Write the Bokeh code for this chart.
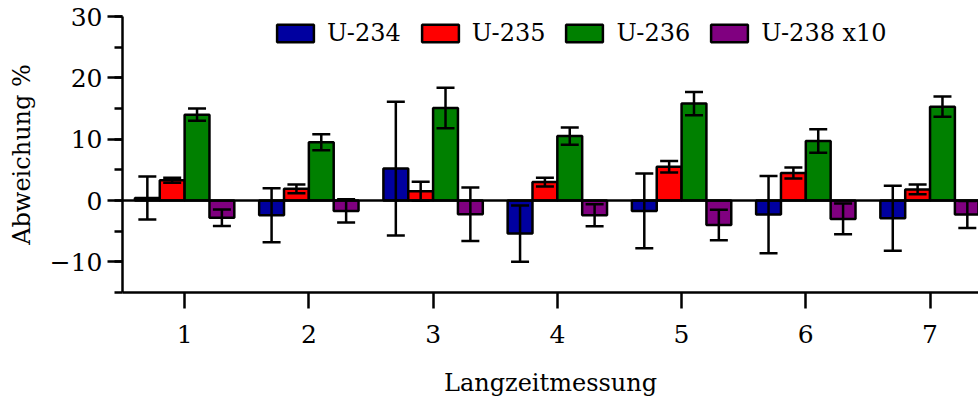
import numpy as np
from bokeh.plotting import figure
from bokeh.models import (ColumnDataSource, Range1d, FixedTicker, SingleIntervalTicker,
                          Whisker, TeeHead, Span, Legend, LegendItem)
from bokeh.embed import file_html
from bokeh.resources import INLINE

# ---- data ----
messung = [1, 2, 3, 4, 5, 6, 7]
tick_labels = ["1", "2", "3", "4", "5", "6", "7"]
series_names = ["U-234", "U-235", "U-236", "U-238 x10"]
u234 = [0.4, -2.4, 5.2, -5.4, -1.7, -2.3, -2.9]
u234_err = [3.5, 4.4, 10.9, 4.6, 6.1, 6.3, 5.3]
u235 = [3.3, 1.9, 1.5, 3.0, 5.5, 4.5, 1.8]
u235_err = [0.4, 0.7, 1.55, 0.7, 0.95, 0.9, 0.8]
u236 = [14.0, 9.5, 15.1, 10.5, 15.8, 9.7, 15.3]
u236_err = [1.0, 1.3, 3.3, 1.4, 1.9, 1.9, 1.65]
u238x10 = [-2.8, -1.7, -2.25, -2.4, -4.0, -3.0, -2.3]
u238x10_err = [1.35, 1.9, 4.35, 1.8, 2.5, 2.5, 2.2]

values = [u234, u235, u236, u238x10]
errors = [u234_err, u235_err, u236_err, u238x10_err]
colors = ["#0000A0", "#FF0000", "#008000", "#800080"]
offsets = [-0.3, -0.1, 0.1, 0.3]
bar_w = 0.2

FONT = "DejaVu Serif"

p = figure(width=978, height=403, output_backend="svg", toolbar_location=None,
           x_range=Range1d(0.5, 7.39), y_range=Range1d(-15, 30),
           min_border_left=122, min_border_right=0, min_border_top=16,
           min_border_bottom=111)
p.outline_line_color = None
p.xgrid.visible = False
p.ygrid.visible = False
p.background_fill_color = "white"

items = []
for name, vals, errs, col, off in zip(series_names, values, errors, colors, offsets):
    v = np.array(vals, dtype=float)
    e = np.array(errs, dtype=float)
    src = ColumnDataSource(dict(x=np.array(messung, dtype=float) + off, top=v,
                                upper=v + e, lower=v - e))
    r = p.vbar(x="x", top="top", bottom=0, width=bar_w, source=src,
               fill_color=col, line_color="black", line_width=2.5)
    items.append(LegendItem(label=name, renderers=[r]))
    w = Whisker(source=src, base="x", upper="upper", lower="lower", level="annotation",
                line_color="black", line_width=2.5,
                upper_head=TeeHead(size=18, line_width=2.5, line_color="black"),
                lower_head=TeeHead(size=18, line_width=2.5, line_color="black"))
    p.add_layout(w)

p.add_layout(Span(location=0, dimension="width", line_color="black", line_width=2.5))

# axes
for ax in (p.xaxis[0], p.yaxis[0]):
    ax.axis_line_width = 2.5
    ax.axis_line_color = "black"
    ax.major_tick_line_width = 2.5
    ax.minor_tick_line_width = 2.5
    ax.major_tick_in = 0
    ax.minor_tick_in = 0
    ax.major_label_text_font = FONT
    ax.major_label_text_font_size = "25px"
    ax.major_label_text_color = "black"
    ax.axis_label_text_font = FONT
    ax.axis_label_text_font_size = "24px"
    ax.axis_label_text_font_style = "normal"
    ax.axis_label_text_color = "black"

p.xaxis.ticker = FixedTicker(ticks=messung)
p.xaxis.major_label_overrides = {m: t for m, t in zip(messung, tick_labels)}
p.xaxis.major_tick_out = 16
p.xaxis.minor_tick_out = 0
p.xaxis.major_label_standoff = 16
p.xaxis.axis_label = "Langzeitmessung"
p.xaxis.axis_label_standoff = 23

p.yaxis.ticker = SingleIntervalTicker(interval=10, num_minor_ticks=2)
p.yaxis.major_tick_out = 15
p.yaxis.minor_tick_out = 8
p.yaxis.major_label_standoff = 5
p.yaxis.axis_label = "Abweichung %"
p.yaxis.axis_label_standoff = 11

legend = Legend(items=items, orientation="horizontal", location=(150, 245),
                glyph_width=46, glyph_height=22, label_standoff=9, spacing=16,
                padding=0, margin=0, border_line_color=None, background_fill_alpha=0,
                label_text_font=FONT, label_text_font_size="24px", label_text_color="black")
p.add_layout(legend, "center")

open("out.html", "w").write(file_html(p, INLINE))
